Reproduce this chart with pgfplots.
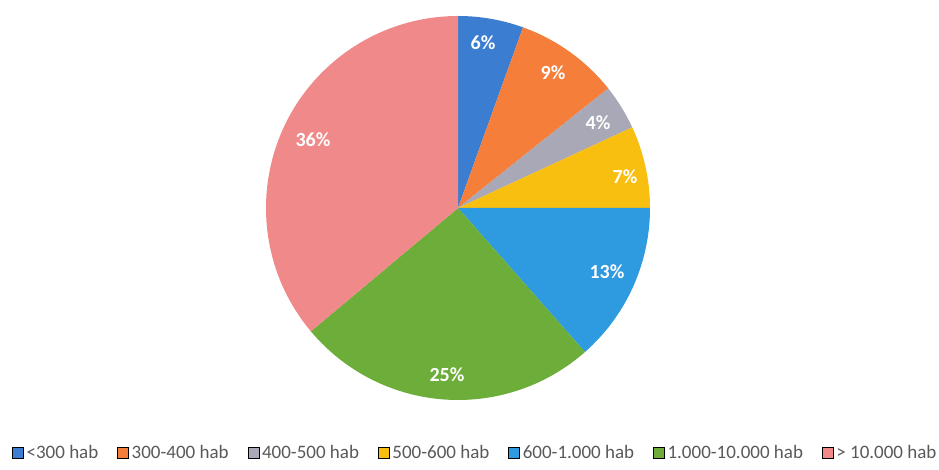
\documentclass[border=0pt]{standalone}
\usepackage{pgfplots}
\pgfplotsset{compat=1.18}
\usepackage{fontspec}
\setmainfont{Carlito}
\definecolor{cA}{HTML}{3B7DD0}
\definecolor{cB}{HTML}{F47E3A}
\definecolor{cC}{HTML}{A8A8B6}
\definecolor{cD}{HTML}{F8BE10}
\definecolor{cE}{HTML}{2E9AE0}
\definecolor{cF}{HTML}{6DAE3A}
\definecolor{cG}{HTML}{F08A8A}
\definecolor{txt}{HTML}{595959}
\begin{document}
\begin{tikzpicture}
\begin{axis}[
  scale only axis, width=939pt, height=470pt,
  xmin=0, xmax=939, ymin=0, ymax=470,
  hide axis, clip=false,
  legend columns=7,
  legend style={at={(axis cs:12,17)}, anchor=west, draw=none, fill=none,
    inner sep=0pt, font=\fontsize{19}{22}\selectfont\color{txt},
    nodes={inner sep=1.5pt},
    /tikz/every odd column/.append style={column sep=1.5pt},
    /tikz/every even column/.append style={column sep=17.5pt}},
  legend image code/.code={\fill[#1] (0pt,-5.5pt) rectangle (11pt,5.5pt);},
]
\path (rel axis cs:0,0) rectangle (rel axis cs:1,1);
\def\cum{0}
\foreach \v/\c in {5.5/cA, 8.8/cB, 3.8/cC, 6.9/cD, 13.5/cE, 25.4/cF, 36.1/cG}{
  \pgfmathsetmacro\a{90-3.6*\cum}
  \pgfmathsetmacro\b{90-3.6*(\cum+\v)}
  \edef\temp{\noexpand\fill[\c] (axis cs:458,262) -- ++(\a:192pt) arc[start angle=\a, end angle=\b, radius=192pt] -- cycle;}
  \temp
  \pgfmathsetmacro\cumn{\cum+\v}
  \xdef\cum{\cumn}
}
\foreach \x/\y/\l in {483/427/6, 553/397/9, 598/347/4, 625/293/7, 607/198/13, 447/95/25, 313/330/36}{
  \edef\temp{\noexpand\node[text=white, font=\noexpand\fontsize{20}{22}\noexpand\selectfont\noexpand\bfseries] at (axis cs:\x,\y) {\l\noexpand\%};}
  \temp
}
\addlegendimage{fill=cA}\addlegendentry{<300 hab}
\addlegendimage{fill=cB}\addlegendentry{300-400 hab}
\addlegendimage{fill=cC}\addlegendentry{400-500 hab}
\addlegendimage{fill=cD}\addlegendentry{500-600 hab}
\addlegendimage{fill=cE}\addlegendentry{600-1.000 hab}
\addlegendimage{fill=cF}\addlegendentry{1.000-10.000 hab}
\addlegendimage{fill=cG}\addlegendentry{> 10.000 hab}
\end{axis}
\end{tikzpicture}
\end{document}
